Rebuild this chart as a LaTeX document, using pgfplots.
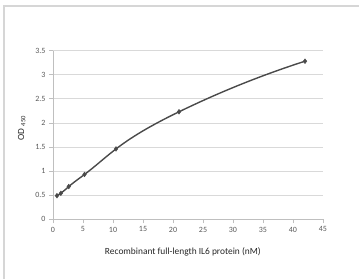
\documentclass[border=0pt]{standalone}
\usepackage{pgfplots}
\pgfplotsset{compat=1.18}
\usetikzlibrary{hobby}
\usepackage{fontspec}
\setmainfont{Carlito}
\definecolor{txt}{HTML}{595959}
\definecolor{ln}{HTML}{4A4A4A}
\definecolor{grd}{HTML}{D9D9D9}
\definecolor{axl}{HTML}{BFBFBF}
\definecolor{frm}{HTML}{D6D6D6}
\begin{document}
\begin{tikzpicture}[x=1pt,y=1pt]
\useasboundingbox (0,0) rectangle (359,279);
\draw[line width=2pt, color=frm] (3.5,0) -- (3.5,272.5) -- (359,272.5);
\begin{axis}[
  at={(53pt,59.7pt)}, anchor=south west,
  scale only axis, width=270pt, height=168.7pt,
  xmin=0, xmax=45, ymin=0, ymax=3.5,
  xtick={0,5,...,45}, ytick={0,0.5,...,3.5},
  axis lines*=left,
  axis line style={color=axl, line width=0.8pt},
  ymajorgrids, grid style={color=grd, line width=0.8pt},
  tick align=outside, major tick length=4pt,
  tick style={color=axl, line width=0.8pt},
  /pgf/number format/assume math mode=true,
  ticklabel style={font=\fontsize{8}{9}\selectfont, color=txt},
  yticklabel style={/pgf/number format/fixed},
  xlabel={Recombinant full-length IL6 protein (nM)},
  xlabel style={at={(axis description cs:0.481,-0.192)}, anchor=center, font=\fontsize{9.4}{11}\selectfont, color=black!85},
  ylabel={OD \textsubscript{450}},
  ylabel style={at={(axis description cs:-0.116,0.541)}, anchor=center, rotate=0, font=\fontsize{9.4}{11}\selectfont, color=black!85},
]
\addplot[color=ln, line width=1.4pt, hobby, mark=diamond*, mark size=2.4pt, mark options={fill=ln, draw=ln, line width=0.4pt}]
  coordinates {(0.66,0.49)(1.31,0.54)(2.63,0.68)(5.25,0.93)(10.5,1.46)(21,2.23)(42,3.28)};
\end{axis}
\end{tikzpicture}
\end{document}
